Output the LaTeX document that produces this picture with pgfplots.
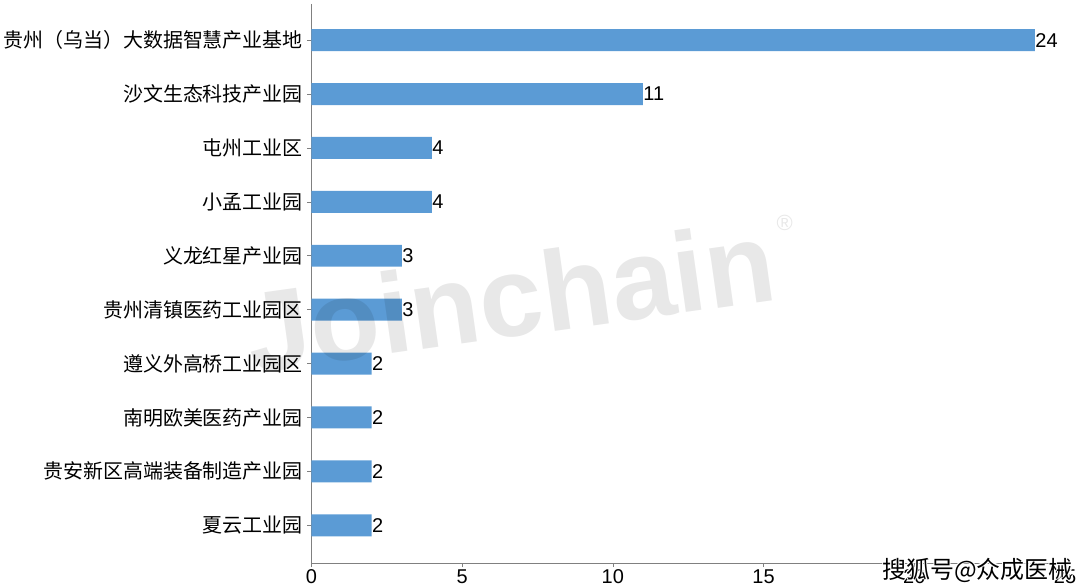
\documentclass[border=0pt]{standalone}
\usepackage{fontspec}
\setmainfont{Liberation Sans}
\newfontfamily\cjk{Noto Sans CJK SC}
\usepackage{pgfplots}
\pgfplotsset{compat=1.18}
\usetikzlibrary{calc}
\definecolor{barblue}{HTML}{5B9BD5}
\definecolor{axgray}{HTML}{808080}
\tikzset{
    tag/.style={font=\cjk\fontsize{24}{24}\selectfont, anchor=center},
    halo/.style={tag, text=white},
}

\begin{document}
\begin{tikzpicture}
\begin{axis}[
    name=ax,
    scale only axis,
    width=755pt, height=560pt,
    xbar,
    bar width=22pt,
    xmin=0, xmax=25,
    ymin=-0.67, ymax=9.7,
    y dir=reverse,
    ytick={0,...,9},
    yticklabels={贵州（乌当）大数据智慧产业基地,沙文生态科技产业园,屯州工业区,小孟工业园,义龙红星产业园,贵州清镇医药工业园区,遵义外高桥工业园区,南明欧美医药产业园,贵安新区高端装备制造产业园,夏云工业园},
    yticklabel style={font=\cjk\fontsize{20}{20}\selectfont, xshift=-1pt},
    xtick={0,5,...,25},
    xticklabel style={font=\fontsize{20}{20}\selectfont, yshift=1pt},
    /pgf/number format/assume math mode=true,
    axis x line*=bottom,
    axis y line*=left,
    axis line style={axgray, line width=0.8pt},
    tick style={axgray, line width=0.6pt},
    major tick length=4pt,
    tick align=outside,
    nodes near coords,
    every node near coord/.append style={font=\fontsize{20}{20}\selectfont, anchor=west, xshift=-3pt},
    clip=false,
]
\addplot[fill=barblue, draw=none] coordinates {
    (24,0) (11,1) (4,2) (4,3) (3,4) (3,5) (2,6) (2,7) (2,8) (2,9)
};
% watermark
\node[rotate=8, text=black, text opacity=0.09, font=\bfseries\fontsize{114}{114}\selectfont, anchor=center]
    at (axis cs:6.6,4.75) {Joinchain};
\node[text=black, text opacity=0.09, font=\fontsize{22}{22}\selectfont]
    at (axis cs:15.7,3.4) {®};
% source tag, black text with a white halo
\node[halo, xshift=-1.2pt] at (axis cs:22.1,9.83) {搜狐号@众成医械};
\node[halo, xshift=1.2pt]  at (axis cs:22.1,9.83) {搜狐号@众成医械};
\node[halo, yshift=-1.2pt] at (axis cs:22.1,9.83) {搜狐号@众成医械};
\node[halo, yshift=1.2pt]  at (axis cs:22.1,9.83) {搜狐号@众成医械};
\node[tag] at (axis cs:22.1,9.83) {搜狐号@众成医械};
\end{axis}
\path[use as bounding box] ($(ax.south west)+(-310pt,-24pt)$) rectangle ($(ax.north east)+(15pt,4pt)$);
\end{tikzpicture}
\end{document}
